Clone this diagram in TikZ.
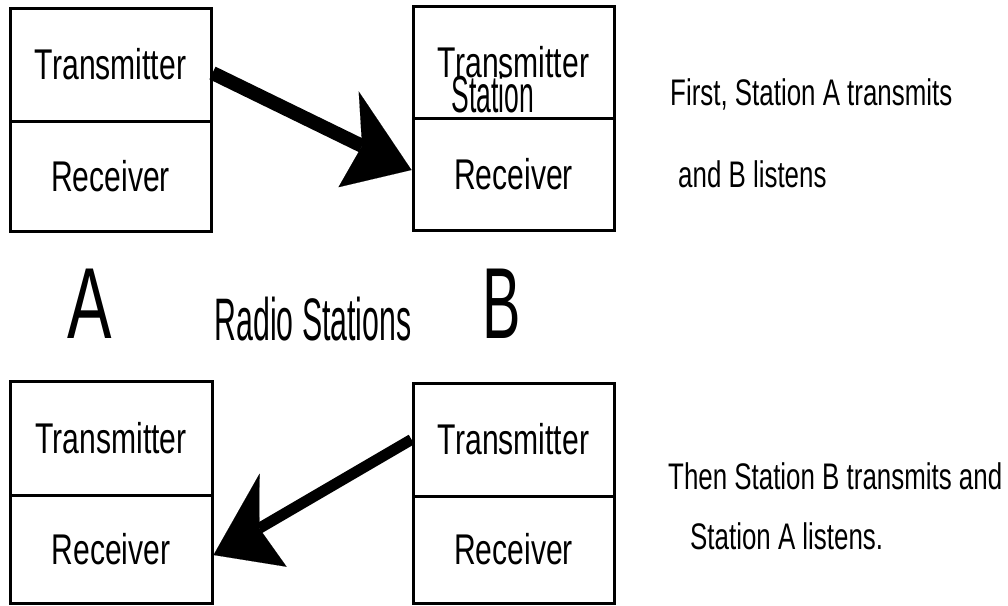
\documentclass[tikz,border=0pt]{standalone}
\usepackage{fontspec}
\setmainfont{Liberation Sans}
\usepackage{graphicx}
\usetikzlibrary{arrows.meta}
% horizontally condensed text
\newcommand{\narrow}[2]{\scalebox{#1}[1]{#2}}

\begin{document}
\begin{tikzpicture}[x=1pt,y=-1pt,
  cell/.style={draw, line width=3pt, inner sep=0pt,
               font=\fontsize{43}{43}\selectfont},
  note/.style={anchor=base west, inner sep=0pt,
               font=\fontsize{37}{37}\selectfont},
  big/.style={anchor=base, inner sep=0pt,
              font=\fontsize{101}{101}\selectfont},
  title/.style={anchor=base, inner sep=0pt},
  sendA/.style={line width=14pt,
    -{Stealth[length=70pt, width=95pt, inset=15pt, slant=-0.25, line width=0.1pt]}},
  sendB/.style={line width=11pt,
    -{Stealth[length=69pt, width=94pt, inset=16pt, slant=0.25, line width=0.1pt]}}
]
\useasboundingbox (0,0) rectangle (1008,605);

% Station A, first phase
\node[cell, minimum width=201pt, minimum height=113pt] (ta) at (110.5,64.5) {\narrow{0.70}{Transmitter}};
\node[cell, minimum width=201pt, minimum height=110pt] (ra) at (110.5,176) {\narrow{0.70}{Receiver}};

% Station B, first phase
\node[cell, minimum width=201pt, minimum height=112pt] (tb) at (513.5,62) {\narrow{0.70}{Transmitter}};
\node[cell, minimum width=201pt, minimum height=112pt] (rb) at (513.5,174) {\narrow{0.70}{Receiver}};
\node[title, font=\fontsize{52}{52}\selectfont] (st) at (493,112) {\narrow{0.51}{Station}};

% Station A, second phase
\node[cell, minimum width=202pt, minimum height=114pt] (tl) at (111,438) {\narrow{0.70}{Transmitter}};
\node[cell, minimum width=202pt, minimum height=108pt] (rl) at (111,549) {\narrow{0.70}{Receiver}};

% Station B, second phase
\node[cell, minimum width=201pt, minimum height=113pt] (bt) at (513.5,439.5) {\narrow{0.70}{Transmitter}};
\node[cell, minimum width=201pt, minimum height=107pt] (br) at (513.5,549.5) {\narrow{0.70}{Receiver}};

% station letters and caption
\node[big] (la) at (90,338) {\narrow{0.66}{A}};
\node[big] (lb) at (502,338) {\narrow{0.57}{B}};
\node[title, font=\fontsize{60}{60}\selectfont] (cap) at (313,340) {\narrow{0.505}{Radio Stations}};

% explanations
\node[note] (n1) at (670,105) {\narrow{0.70}{First, Station A transmits}};
\node[note] (n2) at (678,187) {\narrow{0.70}{and B listens}};
\node[note] (n3) at (668,489) {\narrow{0.70}{Then Station B transmits and}};
\node[note] (n4) at (690,549) {\narrow{0.70}{Station A listens.}};

% transmissions
\draw[sendA] ([yshift=-8.5pt]ta.east) -- ([yshift=4pt]rb.west);
\draw[sendB] (bt.west) -- ([yshift=-6pt]rl.east);
\end{tikzpicture}
\end{document}
